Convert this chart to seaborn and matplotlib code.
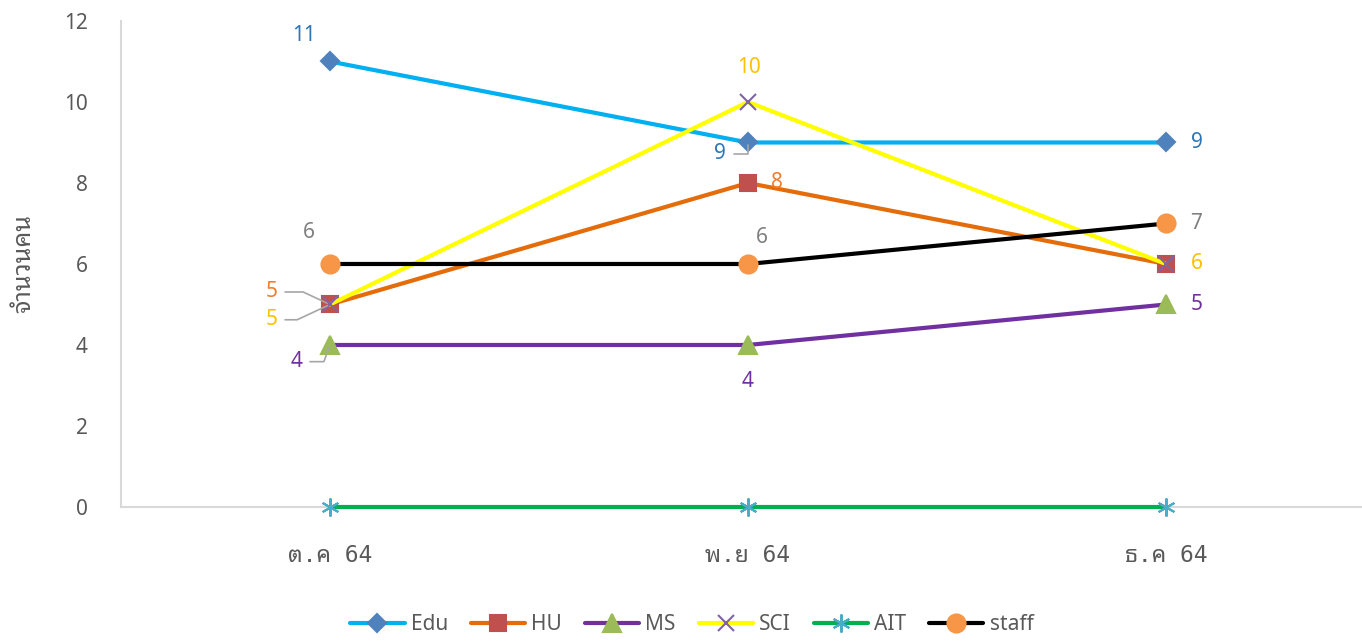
import matplotlib
matplotlib.use("Agg")
import matplotlib.pyplot as plt
import seaborn as sns

# ======================
# DATA
# ======================
months = ["ต.ค 64", "พ.ย 64", "ธ.ค 64"]
edu = [11, 9, 9]
hu = [5, 8, 6]
ms = [4, 4, 5]
sci = [5, 10, 6]
ait = [0, 0, 0]
staff = [6, 6, 7]

series = [
    # name, values, line colour, marker, marker colour, label colour, marker size
    ("Edu", edu, "#00B0F0", "D", "#4F81BD", "#2E75B6", 9),
    ("HU", hu, "#E46C0A", "s", "#C0504D", "#ED7D31", 11),
    ("MS", ms, "#7030A0", "^", "#9BBB59", "#7030A0", 13),
    ("SCI", sci, "#FFFF00", "x", "#8064A2", "#FFC000", 11),
    ("AIT", ait, "#00B050", (6, 2, 0), "#4BACC6", "#4BACC6", 13),
    ("staff", staff, "#000000", "o", "#F79646", "#808080", 13),
]

# label offsets in points for each (series, month); None = no label
# (dx, dy, leader angle or None)
label_pos = {
    "Edu": [(-19, 19, None), (-20, -8, 90), (22, 0, None)],
    "HU": [(-42, 9, 155), (21, 0, None), None],
    "MS": [(-24, -12, 250), (0, -26, None), (22, 0, None)],
    "SCI": [(-42, -11, 205), (1, 25, None), (22, 0, None)],
    "AIT": [None, None, None],
    "staff": [(-15, 23, None), (10, 19, None), (22, 0, None)],
}

# ======================
# PLOT
# ======================
sns.set_style("white")
plt.rcParams['font.family'] = ['Noto Sans', 'Noto Sans Thai Looped']

fig = plt.figure(figsize=(13.62, 6.42), dpi=100)
ax = fig.add_axes([0.0888, 0.2103, 0.9207, 0.757])

for name, vals, lc, mk, mc, tc, ms_ in series:
    sns.lineplot(x=months, y=vals, ax=ax, color=lc, linewidth=3, marker=mk,
                 markersize=ms_, markerfacecolor=mc, markeredgecolor=mc,
                 markeredgewidth=1.5, label=name, sort=False,
                 clip_on=False, zorder=3)
    for i, pos in enumerate(label_pos[name]):
        if pos is None:
            continue
        dx, dy, ang = pos
        arrow = None
        if ang is not None:
            arrow = dict(arrowstyle="-", color="#A6A6A6", lw=1.2, shrinkA=3, shrinkB=2,
                         connectionstyle="angle,angleA=0,angleB=%d,rad=0" % ang)
        ax.annotate(str(vals[i]), xy=(i, vals[i]), xytext=(dx, dy),
                    textcoords="offset points", ha="center", va="center",
                    fontsize=15, color=tc, arrowprops=arrow)

ax.set_xlim(-0.5, 2.5)
ax.set_ylim(0, 12)
ax.set_yticks(range(0, 13, 2))
ax.tick_params(axis="y", length=0, pad=24, labelsize=15, labelcolor="#595959")
ax.tick_params(axis="x", length=0, pad=27, labelsize=16.5, labelcolor="#595959")
for lab in ax.get_xticklabels():
    lab.set_family(['DejaVu Sans Mono', 'Noto Sans Thai Looped'])
    lab.set_fontsize(16.5)

ax.set_ylabel("จำนวนคน", fontsize=18, color="#595959", labelpad=20,
              family=['Noto Sans Thai Looped', 'Noto Sans'])

sns.despine(ax=ax, top=True, right=True)
for side in ["left", "bottom"]:
    ax.spines[side].set_color("#D9D9D9")
    ax.spines[side].set_linewidth(1.5)
    ax.spines[side].set_zorder(1)

ax.legend(loc="lower center", bbox_to_anchor=(0.508, -0.018), bbox_transform=fig.transFigure,
          ncol=6, frameon=False, fontsize=15, handlelength=2.6, columnspacing=1.1,
          handletextpad=0.3, labelcolor="#595959")

fig.savefig("out.png", dpi=100)
